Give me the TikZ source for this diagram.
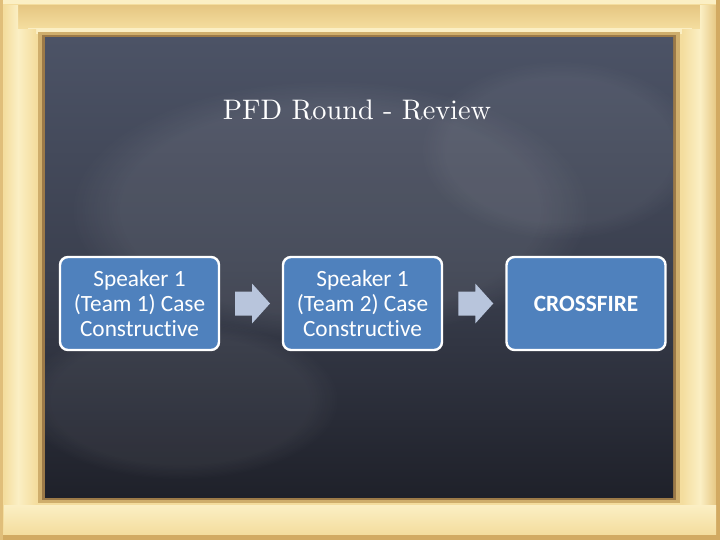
\documentclass[tikz,border=0pt]{standalone}
\usepackage{fontspec}
\newfontfamily\calib[RawFeature=-liga]{Carlito}
\usetikzlibrary{calc,fadings}
\definecolor{frameA}{HTML}{F4DD9E}
\definecolor{frameL}{HTML}{FBEFC4}
\definecolor{frameD}{HTML}{E6C783}
\definecolor{frameE}{HTML}{D2AA62}
\definecolor{bevelA}{HTML}{CFAE6C}
\definecolor{bevelD}{HTML}{9C7A48}
\definecolor{boardT}{HTML}{4C5366}
\definecolor{boardM}{HTML}{3B404F}
\definecolor{boardB}{HTML}{1F212A}
\definecolor{boxblue}{HTML}{4F81BD}
\definecolor{arrowc}{HTML}{B8C5DC}
\tikzset{
  stagebox/.style={draw=white, line width=2.4pt, fill=boxblue, rounded corners=8pt,
    minimum width=159pt, minimum height=93pt, align=center, text=white,
    font=\calib\fontsize{23.3}{25}\selectfont, inner sep=2pt},
  blockarr/.style={fill=arrowc},
  blotch/.style={fill=white, path fading=circle with fuzzy edge 20 percent}
}
\begin{document}
\begin{tikzpicture}[x=1pt,y=-1pt]
\useasboundingbox (0,0) rectangle (720,540);
% frame
\fill[frameA] (0,0) rectangle (720,540);
\fill[frameL] (0,0) rectangle (720,4);
\shade[top color=frameD, bottom color=frameA] (4,6) rectangle (716,28);
\fill[frameL] (28,28) rectangle (692,34);
\shade[left color=frameA, right color=frameL] (4,6) rectangle (18,534);
\shade[left color=frameL, right color=frameA] (18,30) rectangle (36,534);
\shade[left color=frameA, right color=frameL] (682,30) rectangle (700,534);
\shade[left color=frameL, right color=frameD] (700,6) rectangle (716,534);
\fill[frameE] (716,0) rectangle (720,540);
\shade[top color=frameL, bottom color=frameA] (4,505) rectangle (716,534);
\fill[frameE] (0,535) rectangle (720,540);
\fill[frameE!60!frameA] (0,0) rectangle (3,540);
% bevel
\fill[bevelA] (38,32) rectangle (680,503);
\fill[bevelD] (42,35) rectangle (676,500);
% board
\shade[top color=boardT, bottom color=boardB, middle color=boardM] (45,38) rectangle (673,497);
\begin{scope}
  \clip (45,38) rectangle (673,497);
  \fill[blotch, opacity=0.07] (330,210) ellipse (260 and 130);
  \fill[blotch, opacity=0.05] (180,400) ellipse (160 and 80);
  \fill[blotch, opacity=0.05] (560,150) ellipse (140 and 90);
\end{scope}
% title
\node[text=white, anchor=base] (title) at (357,120)
  {\resizebox{268pt}{!}{PFD Round - Review}};
% boxes
\node[stagebox] (b1) at (139.5,303.5) {Speaker 1\\(Team 1) Case\\Constructive};
\node[stagebox] (b2) at (362.5,303.5) {Speaker 1\\(Team 2) Case\\Constructive};
\node[stagebox, font=\calib\bfseries\fontsize{23.3}{25}\selectfont] (b3) at (586,303.5) {CROSSFIRE};
% arrows
\coordinate (m1) at ($(b1.east)!0.5!(b2.west)+(1,0)$);
\coordinate (m2) at ($(b2.east)!0.5!(b3.west)+(1,0)$);
\foreach \m in {m1,m2}{
  \begin{scope}[shift={(\m)}]
    \fill[blockarr] (-17,-12) -- (0,-12) -- (0,-20) -- (18,0) -- (0,20) -- (0,12) -- (-17,12) -- cycle;
  \end{scope}
}
\end{tikzpicture}
\end{document}
